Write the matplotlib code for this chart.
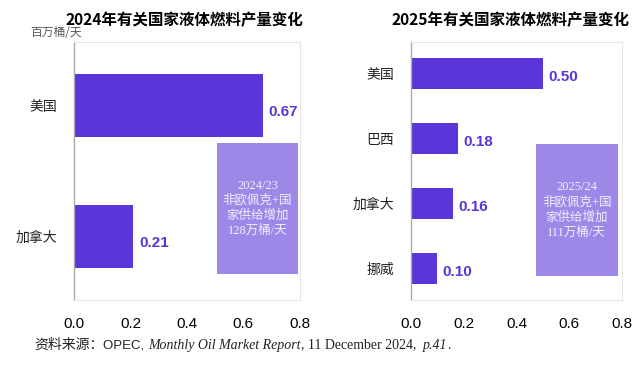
import matplotlib
matplotlib.use("Agg")
import matplotlib.pyplot as plt
from matplotlib.patches import Rectangle
from matplotlib.offsetbox import TextArea, HPacker, AnchoredOffsetbox

# === DONNÉES ===
countries_2024 = ["美国", "加拿大"]
values_2024 = [0.67, 0.21]
countries_2025 = ["美国", "巴西", "加拿大", "挪威"]
values_2025 = [0.50, 0.18, 0.16, 0.10]
x_ticks = [0.0, 0.2, 0.4, 0.6, 0.8]
titles = ["2024年有关国家液体燃料产量变化", "2025年有关国家液体燃料产量变化"]
box_texts = ["2024/23\n非欧佩克+国\n家供给增加\n128万桶/天",
             "2025/24\n非欧佩克+国\n家供给增加\n111万桶/天"]
unit_label = "百万桶/天"

BAR_COLOR = "#5A36D8"
BOX_COLOR = "#9D88E8"
CJK = ["Noto Sans CJK SC", "DejaVu Sans"]
NARROW = ["Liberation Sans", "DejaVu Sans"]
SERIF = ["Liberation Serif", "Noto Sans CJK SC", "DejaVu Serif"]

plt.rcParams["font.family"] = CJK

fig = plt.figure(figsize=(6.4, 3.65), dpi=100)
ax1 = fig.add_axes([0.1156, 0.178, 0.353, 0.707])
ax2 = fig.add_axes([0.642, 0.178, 0.33, 0.707])


def draw_panel(ax, cats, vals, title, box_text, box_xy, box_wh, bar_h, title_x):
    y = list(range(len(cats)))
    ax.barh(y, vals, height=bar_h, color=BAR_COLOR, zorder=2)
    for yi, v in zip(y, vals):
        ax.text(v + 0.02, yi + 0.05, f"{v:.2f}", va="center", ha="left",
                fontsize=11, fontweight="bold", color=BAR_COLOR, family=NARROW)
    ax.set_xlim(0, 0.8)
    ax.set_ylim(len(cats) - 0.51, -0.49)
    ax.set_xticks(x_ticks)
    ax.set_xticklabels([f"{t:.1f}" for t in x_ticks], family=NARROW, fontsize=11)
    ax.set_yticks(y)
    ax.set_yticklabels(cats, fontsize=10, color="#222222")
    ax.tick_params(axis="x", length=0, pad=12)
    ax.tick_params(axis="y", length=0, pad=12)
    for s in ["top", "right", "bottom"]:
        ax.spines[s].set_color("#E6E6E6")
        ax.spines[s].set_linewidth(0.8)
    ax.spines["left"].set_color("#AAAAAA")
    ax.spines["left"].set_linewidth(1.0)
    ax.add_patch(Rectangle(box_xy, box_wh[0], box_wh[1], facecolor=BOX_COLOR,
                           edgecolor="none", zorder=2))
    ax.text(box_xy[0] + box_wh[0] / 2, box_xy[1] + box_wh[1] / 2, box_text,
            ha="center", va="center", color="#F2EEFF", fontsize=9,
            linespacing=1.3, family=SERIF, zorder=3)
    ax.set_title(title, fontsize=11.2, fontweight="bold", pad=12, x=title_x)


draw_panel(ax1, countries_2024, values_2024, titles[0], box_texts[0],
           (0.505, 0.285), (0.29, 1.005), 0.485, 0.49)
draw_panel(ax2, countries_2025, values_2025, titles[1], box_texts[1],
           (0.473, 1.085), (0.31, 3.12 - 1.085), 0.48, 0.47)

fig.text(30 / 640, 1 - 33 / 365, unit_label, fontsize=8.5, color="#555555",
         va="center", ha="left")

# Source en bas, police mixte
parts = [
    TextArea("资料来源：", textprops=dict(family=SERIF, fontsize=10, color="#222222")),
    TextArea("OPEC, ", textprops=dict(family=NARROW, fontsize=9.5, color="#222222")),
    TextArea("Monthly Oil Market Report", textprops=dict(family=SERIF, style="italic", fontsize=10, color="#222222")),
    TextArea(", 11 December 2024,  ", textprops=dict(family=SERIF, fontsize=10, color="#222222")),
    TextArea("p.41", textprops=dict(family=SERIF, style="italic", fontsize=10, color="#222222")),
    TextArea(".", textprops=dict(family=SERIF, fontsize=10, color="#222222")),
]
pack = HPacker(children=parts, pad=0, sep=0, align="baseline")
anch = AnchoredOffsetbox(loc="center left", child=pack, pad=0, frameon=False,
                         bbox_to_anchor=(34 / 640, 1 - 345 / 365),
                         bbox_transform=fig.transFigure, borderpad=0)
fig.add_artist(anch)

fig.savefig("out.png", dpi=100)
